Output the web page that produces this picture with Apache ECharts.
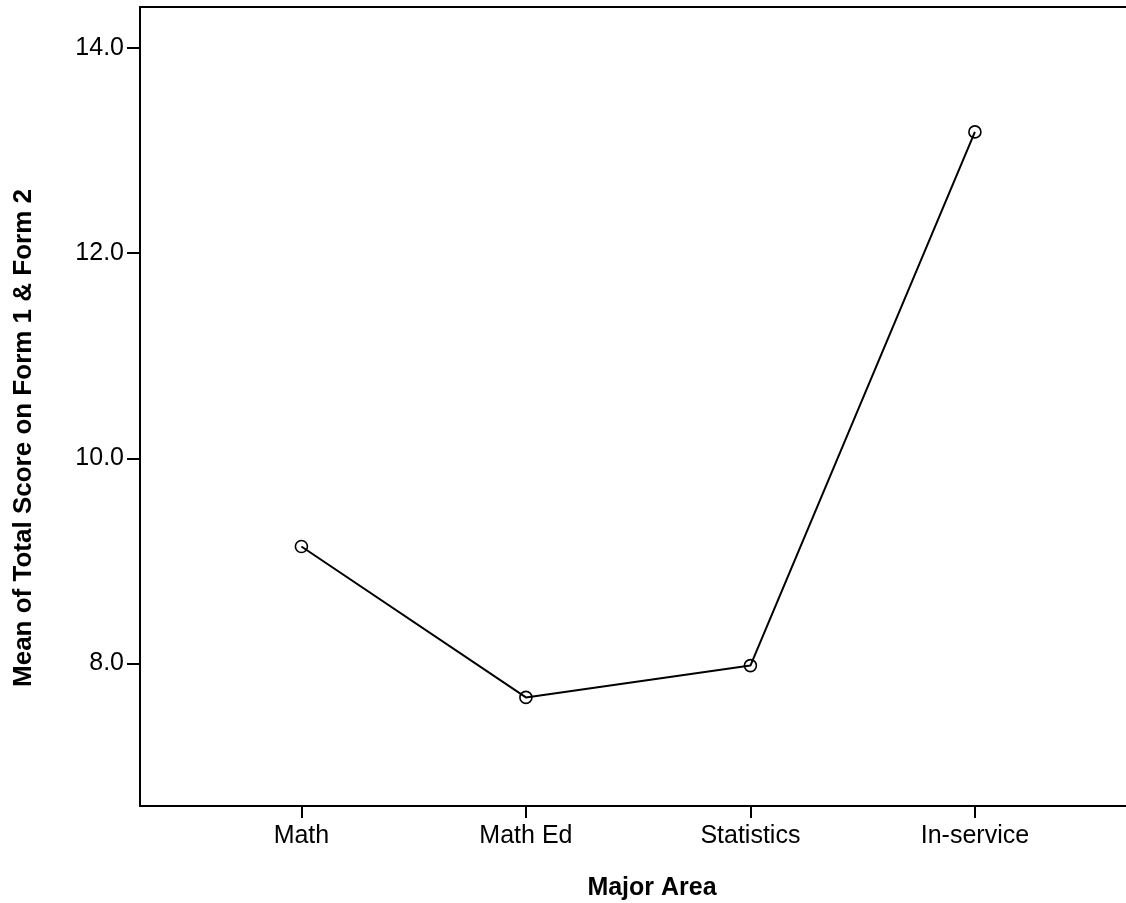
<!DOCTYPE html>
<html>
<head>
<meta charset="utf-8">
<script src="https://cdn.jsdelivr.net/npm/echarts@6/dist/echarts.min.js"></script>
<style>
html,body{margin:0;padding:0;background:#fff;}
#chart{width:1126px;height:903px;}
</style>
</head>
<body>
<div id="chart"></div>
<script>
var categories = ["Math", "Math Ed", "Statistics", "In-service"];
var meanScores = [9.14, 7.67, 7.98, 13.18];
var yTicks = [8, 10, 12, 14];
var xTitle = "Major Area";
var yTitle = "Mean of Total Score on Form 1 & Form 2";

var positions = categories.map(function (c, i) { return i + 1; });
var seriesData = meanScores.map(function (v, i) { return [positions[i], v]; });

var font = "'Liberation Sans', Arial, sans-serif";
var chart = echarts.init(document.getElementById('chart'), null, {renderer: 'canvas'});
chart.setOption({
  animation: false,
  backgroundColor: '#ffffff',
  grid: {left: 140, top: 7, right: 0, bottom: 97, containLabel: false},
  xAxis: [{
    type: 'value',
    min: 0.281, max: 4.673,
    splitLine: {show: false},
    axisLine: {show: true, lineStyle: {color: '#000', width: 2}},
    axisTick: {show: true, length: 12, customValues: positions, lineStyle: {color: '#000', width: 2}},
    axisLabel: {
      customValues: positions, margin: 18, color: '#000', fontFamily: font, fontSize: 25,
      formatter: function (v) { return categories[Math.round(v) - 1] || ''; }
    }
  }, {
    type: 'value', position: 'top',
    min: 0.281, max: 4.673,
    splitLine: {show: false},
    axisLine: {show: true, lineStyle: {color: '#000', width: 2}},
    axisTick: {show: false}, axisLabel: {show: false}
  }],
  yAxis: {
    type: 'value',
    min: 6.612, max: 14.397,
    splitLine: {show: false},
    axisLine: {show: true, lineStyle: {color: '#000', width: 2}},
    axisTick: {show: true, length: 13, customValues: yTicks, lineStyle: {color: '#000', width: 2}},
    axisLabel: {
      customValues: yTicks, margin: 16, color: '#000', fontFamily: font, fontSize: 25,
      formatter: function (v) { return v.toFixed(1); }
    }
  },
  graphic: [{
    type: 'text', x: 24, y: 438, rotation: Math.PI / 2,
    style: {text: yTitle, font: 'bold 26px ' + font, fill: '#000', align: 'center', verticalAlign: 'middle'}
  }, {
    type: 'text', x: 652, y: 888,
    style: {text: xTitle, font: 'bold 25px ' + font, fill: '#000', align: 'center', verticalAlign: 'middle'}
  }],
  series: [{
    type: 'line',
    xAxisIndex: 0,
    data: seriesData,
    symbol: 'circle',
    symbolSize: 12,
    lineStyle: {color: '#000', width: 2},
    itemStyle: {color: 'rgba(0,0,0,0)', borderColor: '#000', borderWidth: 1.6},
    emphasis: {disabled: true}
  }]
});
</script>
</body>
</html>
